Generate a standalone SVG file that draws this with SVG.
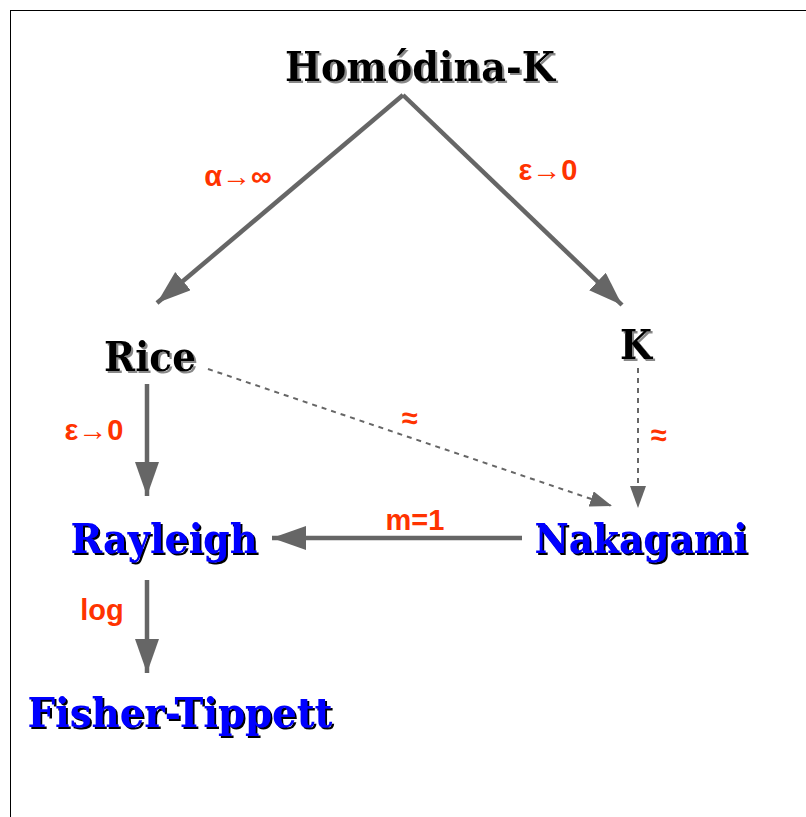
<svg xmlns="http://www.w3.org/2000/svg" width="806" height="817" viewBox="0 0 806 817">
<defs>
<style>
.node{font-family:"DejaVu Serif","Liberation Serif",serif;font-weight:bold;font-size:41px;text-anchor:middle}
.blk{fill:#000;filter:url(#shG)}
.blu{fill:#0000ff;filter:url(#shK)}
.lbl{font-family:"Liberation Sans",Arial,sans-serif;font-weight:bold;font-size:29px;fill:#ff3300;text-anchor:middle}
.e{stroke:#666;stroke-width:4.5;fill:none}
.d{stroke:#666;stroke-width:2;fill:none;stroke-dasharray:5,5}
</style>
<filter id="shG" x="-10%" y="-20%" width="130%" height="150%"><feDropShadow dx="2" dy="2" stdDeviation="0.6" flood-color="#888"/></filter>
<filter id="shK" x="-10%" y="-20%" width="130%" height="150%"><feDropShadow dx="2" dy="2" stdDeviation="0.6" flood-color="#000"/></filter>
<marker id="ah" markerUnits="userSpaceOnUse" markerWidth="36" markerHeight="26" refX="34" refY="12" orient="auto"><path d="M0,0 L34,12 L0,24 Z" fill="#666"/></marker>
<marker id="ahs" markerUnits="userSpaceOnUse" markerWidth="24" markerHeight="18" refX="22" refY="8" orient="auto"><path d="M0,0 L22,8 L0,16 Z" fill="#666"/></marker>
</defs>
<rect x="10.5" y="10.5" width="800" height="810" fill="#fff" stroke="#000" stroke-width="1"/>
<g id="connectors">
<path class="e" d="M403,95 L157,303" marker-end="url(#ah)"/>
<path class="e" d="M403,95 L622,305" marker-end="url(#ah)"/>
<path class="e" d="M147,384 L147,496" marker-end="url(#ah)"/>
<path class="d" d="M638,368 L638,508" marker-end="url(#ahs)"/>
<path class="d" d="M208,369 L612,506" marker-end="url(#ahs)"/>
<path class="e" d="M522,538 L272,538" marker-end="url(#ah)"/>
<path class="e" d="M147,580 L147,673" marker-end="url(#ah)"/>
<text class="lbl" x="238" y="186">α→∞</text>
<text class="lbl" x="548" y="180">ε→0</text>
<text class="lbl" x="94" y="440">ε→0</text>
<text class="lbl" x="410" y="428">≈</text>
<text class="lbl" x="659" y="445">≈</text>
<text class="lbl" x="415" y="530">m=1</text>
<text class="lbl" x="102" y="620">log</text>
</g>
<g id="homodina"><text class="node blk" x="420" y="81" textLength="270" lengthAdjust="spacingAndGlyphs">Homódina-K</text></g>
<g id="rice"><text class="node blk" x="150" y="371" textLength="92" lengthAdjust="spacingAndGlyphs">Rice</text></g>
<g id="k"><text class="node blk" x="636" y="359" textLength="32" lengthAdjust="spacingAndGlyphs">K</text></g>
<g id="rayleigh"><text class="node blu" x="164" y="553" textLength="187" lengthAdjust="spacingAndGlyphs">Rayleigh</text></g>
<g id="nakagami"><text class="node blu" x="641" y="553" textLength="213" lengthAdjust="spacingAndGlyphs">Nakagami</text></g>
<g id="fisher"><text class="node blu" x="180" y="727" textLength="305" lengthAdjust="spacingAndGlyphs">Fisher-Tippett</text></g>
</svg>
